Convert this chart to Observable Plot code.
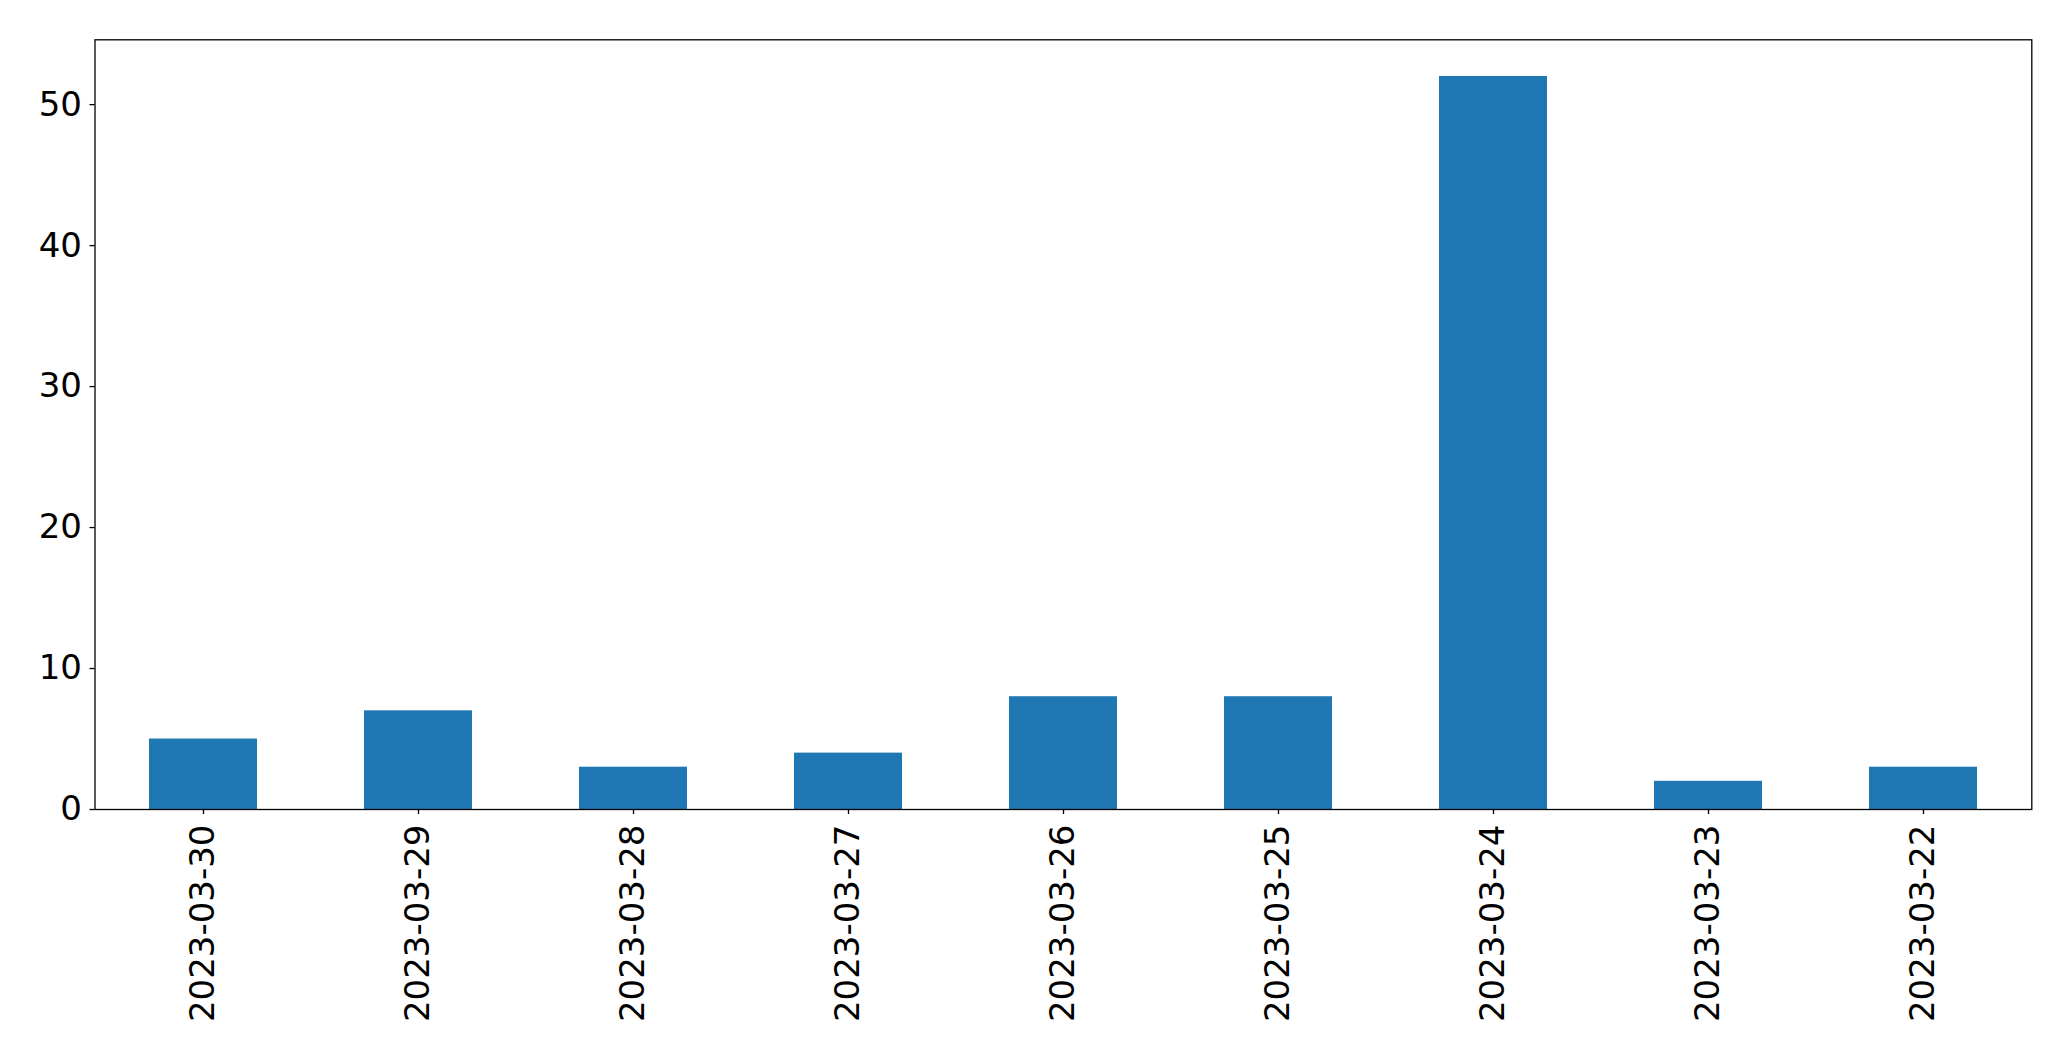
<!DOCTYPE html>
<html>
<head>
<meta charset="utf-8">
<script src="https://cdn.jsdelivr.net/npm/d3@7"></script>
<script src="https://cdn.jsdelivr.net/npm/@observablehq/plot@0.6"></script>
<style>
  html, body { margin: 0; padding: 0; background: #fff; overflow: hidden; }
  #chart svg { display: block; }
</style>
</head>
<body>
<div id="chart"></div>
<script>
const dates = ["2023-03-30", "2023-03-29", "2023-03-28", "2023-03-27", "2023-03-26", "2023-03-25", "2023-03-24", "2023-03-23", "2023-03-22"];
const counts = [5, 7, 3, 4, 8, 8, 52, 2, 3];
const yTicks = [0, 10, 20, 30, 40, 50];

const data = dates.map((d, i) => ({date: d, count: counts[i]}));

const chart = Plot.plot({
  width: 2071,
  height: 1061,
  marginLeft: 94.5,
  marginRight: 39.7,
  marginTop: 39.3,
  marginBottom: 252,
  style: {fontFamily: "DejaVu Sans", fontSize: "34px", color: "#000", background: "#fff"},
  x: {domain: dates, paddingInner: 0.5, paddingOuter: 0.25, label: null},
  y: {domain: [0, 52 * 1.05], label: null},
  marks: [
    Plot.barY(data, {x: "date", y: "count", fill: "#1f77b4"}),
    Plot.frame({stroke: "#000", strokeWidth: 1.3}),
    Plot.axisY({ticks: yTicks, tickSize: 5, tickPadding: 8, label: null, stroke: "#000", strokeWidth: 1.3}),
    Plot.axisX({tickSize: 5, tickRotate: -90, tickPadding: 10, label: null, stroke: "#000", strokeWidth: 1.3})
  ]
});
document.getElementById("chart").appendChild(chart);
</script>
</body>
</html>
